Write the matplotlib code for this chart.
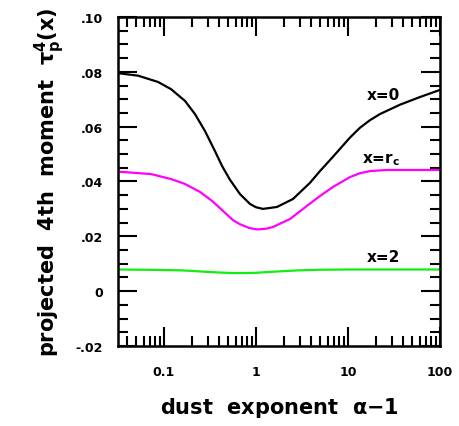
import matplotlib
matplotlib.use("Agg")
import matplotlib.pyplot as plt
from matplotlib.ticker import LogLocator, MultipleLocator, FixedLocator, FixedFormatter

# values
x_black = [0.0316, 0.0522, 0.0861, 0.119, 0.169, 0.217, 0.279, 0.358, 0.427, 0.522,
           0.670, 0.861, 1.0, 1.19, 1.69, 2.52, 3.86, 4.96, 6.37, 8.19,
           10.5, 13.5, 17.4, 22.3, 36.7, 60.6, 100]
y_black = [0.0795, 0.0786, 0.0763, 0.0737, 0.0694, 0.0646, 0.0584, 0.0511, 0.0457, 0.0406,
           0.0354, 0.0318, 0.0306, 0.0300, 0.0307, 0.0336, 0.0395, 0.0438, 0.0478, 0.0519,
           0.0560, 0.0596, 0.0624, 0.0646, 0.0680, 0.0708, 0.0734]

x_mag = [0.0316, 0.0722, 0.119, 0.169, 0.246, 0.333, 0.427, 0.562, 0.67, 0.85,
         1.05, 1.3, 1.53, 2.34, 3.58, 4.96, 6.87, 10.5, 13.5, 17.4, 26.5, 100]
y_mag = [0.0436, 0.0427, 0.0409, 0.0391, 0.0362, 0.0329, 0.0296, 0.0259, 0.0244, 0.0230,
         0.0225, 0.0228, 0.0234, 0.0263, 0.0311, 0.0347, 0.0380, 0.0416, 0.0430, 0.0438,
         0.0442, 0.0442]

x_green = [0.0316, 0.06, 0.1, 0.15, 0.22, 0.3, 0.4, 0.55, 0.75, 1.0,
           1.4, 2.0, 3.0, 5.0, 10, 100]
y_green = [0.0079, 0.0078, 0.0077, 0.0076, 0.0073, 0.0070, 0.0068, 0.0066, 0.0066, 0.0067,
           0.0070, 0.0073, 0.0076, 0.0078, 0.0079, 0.0079]

ytick_vals = [-0.02, 0, 0.02, 0.04, 0.06, 0.08, 0.10]
ytick_labels = ["-.02", "0", ".02", ".04", ".06", ".08", ".10"]
xtick_vals = [0.1, 1, 10, 100]
xtick_labels = ["0.1", "1", "10", "100"]

fig = plt.figure(figsize=(4.6, 4.27), dpi=100)
ax = fig.add_axes([0.2565, 0.1874, 0.70, 0.7705])

ax.plot(x_black, y_black, color="black", lw=1.6)
ax.plot(x_mag, y_mag, color="#ff00ff", lw=1.6)
ax.plot(x_green, y_green, color="#11ee11", lw=1.6)

ax.set_xscale("log")
ax.set_xlim(10 ** -1.5, 100)
ax.set_ylim(-0.02, 0.10)

ax.xaxis.set_major_locator(FixedLocator(xtick_vals))
ax.xaxis.set_major_formatter(FixedFormatter(xtick_labels))
ax.xaxis.set_minor_locator(LogLocator(base=10, subs=range(2, 10), numticks=20))
ax.xaxis.set_minor_formatter(plt.NullFormatter())
ax.yaxis.set_major_locator(FixedLocator(ytick_vals))
ax.yaxis.set_major_formatter(FixedFormatter(ytick_labels))
ax.yaxis.set_minor_locator(MultipleLocator(0.005))

ax.tick_params(which="both", direction="in", top=True, right=True, width=1.5)
ax.tick_params(which="major", length=13.5)
ax.tick_params(which="minor", length=7)
ax.tick_params(axis="y", which="major", pad=11)
ax.tick_params(axis="x", which="major", pad=14)
for lab in ax.get_xticklabels() + ax.get_yticklabels():
    lab.set_fontsize(9)
    lab.set_fontweight("bold")
for s in ax.spines.values():
    s.set_linewidth(1.8)

ax.set_xlabel(r"dust  exponent  $\mathbf{\alpha}$$\mathbf{-1}$", fontsize=15,
              fontweight="bold", labelpad=12)
ax.set_ylabel(r"projected  4th  moment  $\mathbf{\tau_p^4(x)}$", fontsize=15,
              fontweight="bold", labelpad=6)

ax.text(24, 0.0719, "x=0", fontsize=11, fontweight="bold", ha="center", va="center")
ax.text(23, 0.0482, r"x=r$_\mathbf{c}$", fontsize=11, fontweight="bold", ha="center", va="center")
ax.text(24, 0.0125, "x=2", fontsize=11, fontweight="bold", ha="center", va="center")

plt.savefig("out.png", dpi=100)
